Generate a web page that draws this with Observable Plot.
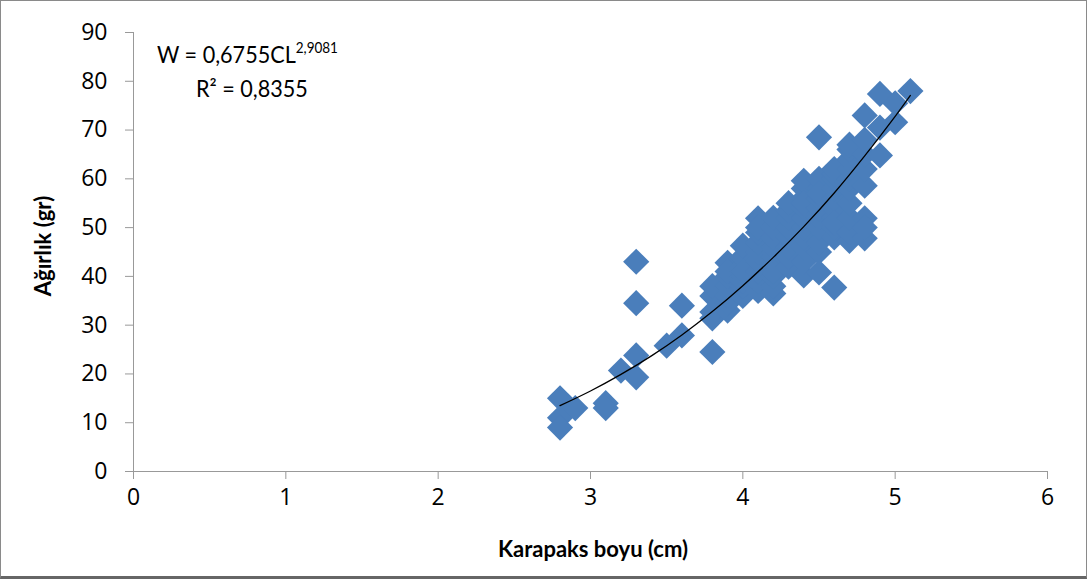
<!DOCTYPE html>
<html>
<head>
<meta charset="utf-8">
<script src="https://cdn.jsdelivr.net/npm/d3@7"></script>
<script src="https://cdn.jsdelivr.net/npm/@observablehq/plot@0.6"></script>
<style>
  body { margin: 0; background: #fff; }
  #wrap { position: relative; width: 1087px; height: 579px; overflow: hidden; font-family: Lato, "Open Sans", sans-serif; color: #000; }
  #frame { position: absolute; left: 0; top: 0; width: 1087px; height: 579px; box-sizing: border-box;
           border: 1px solid #8a8a8a; border-bottom: 3px solid #666; pointer-events: none; }
  #chart { position: absolute; left: 0; top: 0; }
  .eq { position: absolute; font-size: 24px; white-space: nowrap; line-height: 1; transform: scaleX(0.9); transform-origin: left center; }
  .eq sup { font-size: 15px; vertical-align: 0; position: relative; top: -10px; }
  #ylab { position: absolute; left: 42px; top: 246px; transform: translate(-50%, -50%) rotate(-90deg);
          font-weight: bold; font-size: 22px; white-space: nowrap; }
  #xlab { position: absolute; left: 593px; top: 548px; transform: translate(-50%, -50%);
          font-weight: bold; font-size: 22px; white-space: nowrap; }
</style>
</head>
<body>
<div id="wrap">
  <div id="chart"></div>
  <div class="eq" style="left:157px; top:42px;">W = 0,6755CL<sup>2,9081</sup></div>
  <div class="eq" style="left:196px; top:76px;">R² = 0,8355</div>
  <div id="ylab">Ağırlık (gr)</div>
  <div id="xlab">Karapaks boyu (cm)</div>
  <div id="frame"></div>
</div>
<script>
// Carapace length (cm) and weight (g)
const karapaks = [
  2.8, 2.8, 2.8,
  2.9,
  3.1, 3.1,
  3.2,
  3.3, 3.3, 3.3, 3.3,
  3.5,
  3.6, 3.6,
  3.8, 3.8, 3.8, 3.8, 3.8,
  3.9, 3.9, 3.9, 3.9, 3.9, 3.9, 3.9,
  4.0, 4.0, 4.0, 4.0, 4.0, 4.0, 4.0, 4.0,
  4.1, 4.1, 4.1, 4.1, 4.1, 4.1, 4.1, 4.1, 4.1,
  4.2, 4.2, 4.2, 4.2, 4.2, 4.2, 4.2, 4.2, 4.2, 4.2,
  4.3, 4.3, 4.3, 4.3, 4.3, 4.3, 4.3, 4.3,
  4.4, 4.4, 4.4, 4.4, 4.4, 4.4, 4.4, 4.4, 4.4, 4.4, 4.4,
  4.5, 4.5, 4.5, 4.5, 4.5, 4.5, 4.5, 4.5, 4.5, 4.5, 4.5,
  4.6, 4.6, 4.6, 4.6, 4.6, 4.6, 4.6, 4.6, 4.6, 4.6, 4.6,
  4.7, 4.7, 4.7, 4.7, 4.7, 4.7, 4.7, 4.7, 4.7, 4.7,
  4.8, 4.8, 4.8, 4.8, 4.8, 4.8, 4.8, 4.8,
  4.9, 4.9, 4.9,
  5.0, 5.0,
  5.1
];
const agirlik = [
  15, 11, 9,
  13,
  14, 13,
  20.7,
  43, 34.5, 23.8, 19.3,
  25.8,
  34, 27.9,
  24.5, 31.4, 32.7, 36, 38,
  33, 34.5, 36, 38, 40, 42.8, 41,
  36, 38, 40, 42, 44, 46.3, 39, 41,
  37, 39, 41, 43, 45, 47, 49, 51.9, 50,
  36.5, 38, 40, 42, 44, 46, 48, 50, 52, 41,
  42, 44, 46, 48, 50, 52, 53.5, 55,
  40.2, 43, 46, 48, 50, 52, 54, 56, 58, 59.6, 55,
  40.8, 45, 47, 50, 52, 54, 56, 58, 60, 68.5, 57,
  37.7, 48, 50, 52, 54, 56, 58, 60, 61, 62, 51,
  47.3, 49, 52, 55, 58, 60, 62, 64, 66, 67,
  47.8, 51.9, 58.6, 62, 65, 68, 73, 50,
  64.8, 70.5, 77.4,
  71.6, 75.5,
  78
];
// Power trend line as drawn in the picture
const trendX = [2.8, 3.0, 3.2, 3.4, 3.6, 3.8, 4.0, 4.2, 4.4, 4.6, 4.8, 5.0, 5.1];
const trendY = [13.5, 16.5, 19.9, 23.7, 28.0, 32.8, 38.1, 43.9, 50.2, 57.1, 64.7, 72.8, 77.1];
const xTicks = [0, 1, 2, 3, 4, 5, 6];
const yTicks = [0, 10, 20, 30, 40, 50, 60, 70, 80, 90];

const points = karapaks.map((x, i) => ({x, y: agirlik[i]}));
const trend = trendX.map((x, i) => ({x, y: trendY[i]}));

const chart = Plot.plot({
  width: 1087,
  height: 579,
  marginLeft: 133,
  marginRight: 40,
  marginTop: 32,
  marginBottom: 108,
  style: {fontFamily: "'Open Sans', Lato, sans-serif", fontSize: "22px", color: "#000", background: "transparent"},
  x: {domain: [0, 6]},
  y: {domain: [0, 90]},
  marks: [
    Plot.axisY(yTicks, {tickSize: 8, tickPadding: 18, stroke: "#999", fill: "#000", fontSize: 23, tickFormat: d3.format("d"), label: null}),
    Plot.axisX(xTicks, {tickSize: 8, tickPadding: 9, stroke: "#999", fill: "#000", fontSize: 23, tickFormat: d3.format("d"), label: null}),
    Plot.ruleX([0], {stroke: "#999"}),
    Plot.ruleY([0], {stroke: "#999"}),
    Plot.dot(points, {x: "x", y: "y", symbol: "diamond2", r: 11.8, fill: "#4a7ebb"}),
    Plot.line(trend, {x: "x", y: "y", curve: "catmull-rom", stroke: "#000", strokeWidth: 1.3})
  ]
});
document.getElementById("chart").appendChild(chart);
</script>
</body>
</html>
